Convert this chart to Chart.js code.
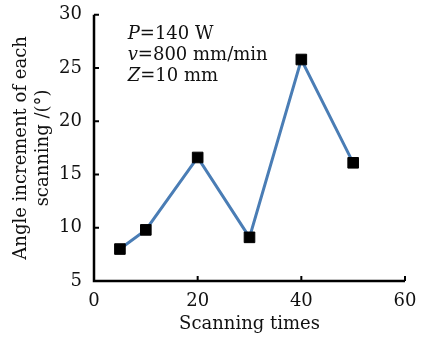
<!DOCTYPE html>
<html>
<head>
<meta charset="utf-8">
<script src="https://cdn.jsdelivr.net/npm/chart.js@4"></script>
<style>
  html, body { margin: 0; padding: 0; background: #fff; }
  #wrap { width: 425px; height: 338px; }
</style>
</head>
<body>
<div id="wrap"><canvas id="chart"></canvas></div>
<script>
// データ
const scanTimes = [5, 10, 20, 30, 40, 50];
const angleIncrement = [8.0, 9.8, 16.6, 9.1, 25.8, 16.1];
const xTicks = [0, 20, 40, 60];
const yTicks = [5, 10, 15, 20, 25, 30];
const noteLines = [['P', '=140 W'], ['v', '=800 mm/min'], ['Z', '=10 mm']];

const FONT = 'DejaVu Serif';

// 内向きの目盛と注記
const axisPlugin = {
    id: 'axisPlugin',
    afterDraw(chart) {
        const ctx = chart.ctx;
        const a = chart.chartArea;
        const xs = chart.scales.x, ys = chart.scales.y;
        ctx.save();
        ctx.strokeStyle = '#000';
        ctx.lineWidth = 2.5;
        ctx.beginPath();
        ctx.moveTo(a.left, a.top);
        ctx.lineTo(a.left, a.bottom);
        ctx.lineTo(a.right, a.bottom);
        ctx.stroke();
        ctx.lineWidth = 2;
        ctx.beginPath();
        yTicks.forEach(v => {
            const y = ys.getPixelForValue(v);
            ctx.moveTo(a.left, y);
            ctx.lineTo(a.left + 5, y);
        });
        xTicks.forEach(v => {
            const x = xs.getPixelForValue(v);
            ctx.moveTo(x, a.bottom);
            ctx.lineTo(x, a.bottom - 5);
        });
        ctx.stroke();

        // パラメータ表示
        ctx.fillStyle = '#111';
        ctx.textBaseline = 'middle';
        noteLines.forEach((ln, i) => {
            const x0 = xs.getPixelForValue(6.5);
            const y0 = ys.getPixelForValue(28.2 - i * 2.0);
            ctx.font = 'italic 18px "' + FONT + '"';
            ctx.fillText(ln[0], x0, y0);
            const w = ctx.measureText(ln[0]).width;
            ctx.font = '18px "' + FONT + '"';
            ctx.fillText(ln[1], x0 + w, y0);
        });
        ctx.restore();
    }
};

new Chart(document.getElementById('chart').getContext('2d'), {
    type: 'line',
    data: {
        datasets: [{
            data: scanTimes.map((t, i) => ({ x: t, y: angleIncrement[i] })),
            borderColor: '#4a7db5',
            borderWidth: 3,
            pointStyle: 'rect',
            pointRadius: 7.5,
            pointBackgroundColor: '#000',
            pointBorderColor: '#000',
            pointBorderWidth: 1,
            tension: 0
        }]
    },
    options: {
        responsive: true,
        maintainAspectRatio: false,
        animation: false,
        layout: { padding: { top: 5, right: 20, left: 0, bottom: 0 } },
        plugins: { legend: { display: false }, tooltip: { enabled: false } },
        scales: {
            x: {
                type: 'linear',
                min: 0, max: 60,
                afterBuildTicks: s => { s.ticks = xTicks.map(v => ({ value: v })); },
                afterFit: s => { s.height = 57; },
                grid: { display: false },
                border: { display: false },
                ticks: { color: '#111', font: { family: FONT, size: 18 }, padding: 2, maxRotation: 0 },
                title: {
                    display: true, text: 'Scanning times', color: '#111',
                    font: { family: FONT, size: 18 }, padding: { top: 0, bottom: 3 }
                }
            },
            y: {
                min: 5, max: 30,
                afterBuildTicks: s => { s.ticks = yTicks.map(v => ({ value: v })); },
                afterFit: s => { s.width = 94; },
                grid: { display: false },
                border: { display: false },
                ticks: { color: '#111', font: { family: FONT, size: 18 }, padding: 4 },
                title: {
                    display: true, text: ['Angle increment of each', 'scanning /(°)'], color: '#111',
                    font: { family: FONT, size: 18, lineHeight: 1.2 }, padding: { top: 11, bottom: 0 }
                }
            }
        }
    },
    plugins: [axisPlugin]
});
</script>
</body>
</html>
